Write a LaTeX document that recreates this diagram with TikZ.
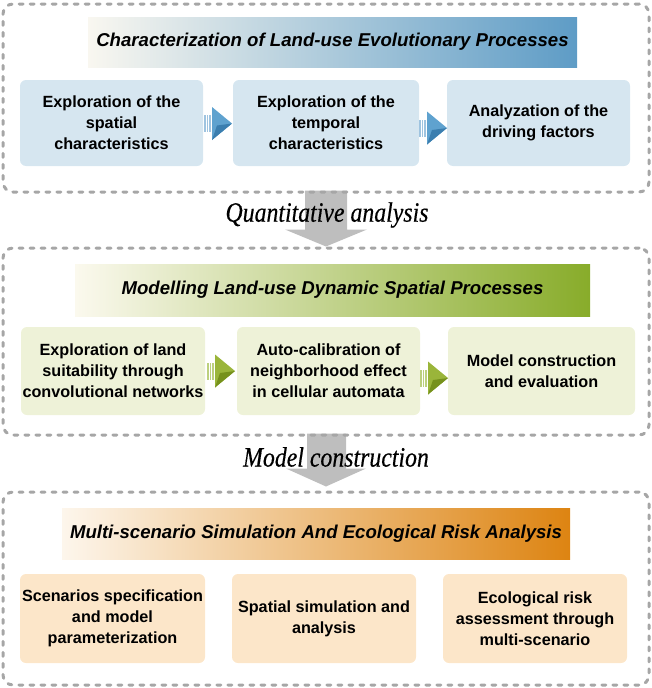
\documentclass[tikz,border=0pt]{standalone}
\usepackage{fontspec}
\setmainfont{Liberation Sans}
\newfontfamily\timesfont[FakeBold=0.4]{Liberation Serif}
\usetikzlibrary{calc,backgrounds}
\definecolor{dashgray}{HTML}{A6A6A6}
\definecolor{arrowgray}{HTML}{BEBEBE}
\definecolor{boxblue}{HTML}{D6E6F0}
\definecolor{boxgreen}{HTML}{EEF2D8}
\definecolor{boxorange}{HTML}{FCE6C9}
\definecolor{bannerblueL}{HTML}{F9F7F0}
\definecolor{bannerblueM}{HTML}{DAE8F0}
\definecolor{bannerblueR}{HTML}{5E9CC6}
\definecolor{bannergreenL}{HTML}{FBF9EE}
\definecolor{bannergreenM}{HTML}{EEF1D2}
\definecolor{bannergreenR}{HTML}{88AC2A}
\definecolor{bannerorangeL}{HTML}{FDF6EC}
\definecolor{bannerorangeM}{HTML}{F9DDB2}
\definecolor{bannerorangeR}{HTML}{DD8412}
\definecolor{barblue}{HTML}{9FC4E0}
\definecolor{midblue}{HTML}{5FA2CF}
\definecolor{darkblue}{HTML}{3B7EAF}
\definecolor{bargreen}{HTML}{BCD07E}
\definecolor{midgreen}{HTML}{9AB53A}
\definecolor{darkgreen}{HTML}{76911C}
\tikzset{
  outer/.style={draw=dashgray, line width=3pt, dash pattern=on 4pt off 7pt,
    line cap=round, rounded corners=10pt, minimum width=646pt, inner sep=0pt},
  banner/.style={inner sep=0pt, font=\fontsize{18.6}{21}\selectfont\bfseries\itshape},
  box/.style={rounded corners=6pt, inner sep=0pt, minimum height=88pt,
    align=center, font=\fontsize{16.2}{21}\selectfont\bfseries},
  bigarrow/.style={fill=arrowgray},
  midlabel/.style={inner sep=0pt, font=\timesfont\itshape\fontsize{28}{30}\selectfont},
  pics/chev/.style n args={3}{code={
    \fill[#1] (-14,-8.5) rectangle (-12.2,8.5);
    \fill[#1] (-11.4,-8.5) rectangle (-9.6,8.5);
    \fill[#1] (-8.8,-8.5) rectangle (-7,8.5);
    \fill[#2] (-6,-16.5) -- (14,0) -- (-6,16.5) -- cycle;
    \fill[#3] (-6,16.5) -- (14,0) -- (-1,2) -- cycle;
  }}
}
\begin{document}
\begin{tikzpicture}[x=1pt,y=-1pt]
\useasboundingbox (0,0) rectangle (652,688);

% outer dashed frames
\node[outer, minimum height=188pt] (o1) at (326,98) {};
\node[outer, minimum height=187pt] (o2) at (326,341.5) {};
\node[outer, minimum height=193pt] (o3) at (326,588.5) {};

% big gray arrows (behind)
\begin{scope}[on background layer]
\fill[bigarrow] ($(o1.south)+(-21,-3)$) -- ($(o1.south)+(21,-3)$)
  -- ($(o2.north)+(21,-17)$) -- ($(o2.north)+(41,-17)$) -- (o2.north)
  -- ($(o2.north)+(-41,-17)$) -- ($(o2.north)+(-21,-17)$) -- cycle;
\fill[bigarrow] ($(o2.south)+(-19,-3)$) -- ($(o2.south)+(20,-3)$)
  -- ($(o3.north)+(20,-22)$) -- ($(o3.north)+(40,-22)$) -- ($(o3.north)+(0,-4)$)
  -- ($(o3.north)+(-40,-22)$) -- ($(o3.north)+(-19,-22)$) -- cycle;
\end{scope}

\node[midlabel] (q) at (327,215) {\scalebox{0.85}[1]{Quantitative analysis}};
\node[midlabel] (m) at (336,457) {\scalebox{0.85}[1]{Model construction}};

% banners
\node[banner, minimum width=489pt, minimum height=50pt,
  left color=bannerblueL, middle color=bannerblueM, right color=bannerblueR]
  (t1) at (332.5,42) {Characterization of Land-use Evolutionary Processes};
\node[banner, minimum width=515pt, minimum height=52pt,
  left color=bannergreenL, middle color=bannergreenM, right color=bannergreenR]
  (t2) at (332.5,290) {Modelling Land-use Dynamic Spatial Processes};
\node[banner, minimum width=508pt, minimum height=51pt,
  left color=bannerorangeL, middle color=bannerorangeM, right color=bannerorangeR]
  (t3) at (316,533.5) {Multi-scenario Simulation And Ecological Risk Analysis};

% row 1
\node[box, fill=boxblue, minimum width=183pt, minimum height=86pt] (a1) at (111.5,123)
  {Exploration of the\\spatial\\characteristics};
\node[box, fill=boxblue, minimum width=186pt, minimum height=86pt] (a2) at (326,123)
  {Exploration of the\\temporal\\characteristics};
\node[box, fill=boxblue, minimum width=183pt, minimum height=86pt] (a3) at (538.5,123)
  {Analyzation of the\\driving factors};
\pic at ($(a1.east)!0.5!(a2.west)+(0,0.5)$) {chev={barblue}{midblue}{darkblue}};
\pic at ($(a2.east)!0.5!(a3.west)+(0,5)$) {chev={barblue}{midblue}{darkblue}};

% row 2
\node[box, fill=boxgreen, minimum width=184pt] (b1) at (113,371)
  {Exploration of land\\suitability through\\convolutional networks};
\node[box, fill=boxgreen, minimum width=183pt] (b2) at (328.5,371)
  {Auto-calibration of\\neighborhood effect\\in cellular automata};
\node[box, fill=boxgreen, minimum width=187pt] (b3) at (541.5,371)
  {Model construction\\and evaluation};
\pic at ($(b1.east)!0.5!(b2.west)$) {chev={bargreen}{midgreen}{darkgreen}};
\pic at ($(b2.east)!0.5!(b3.west)+(0,7)$) {chev={bargreen}{midgreen}{darkgreen}};

% row 3
\node[box, fill=boxorange, minimum width=185pt, minimum height=89pt] (c1) at (112.5,618.5)
  {Scenarios specification\\and model\\parameterization};
\node[box, fill=boxorange, minimum width=184pt, minimum height=89pt] (c2) at (324,618.5)
  {Spatial simulation and\\analysis};
\node[box, fill=boxorange, minimum width=184pt, minimum height=89pt] (c3) at (535,618.5)
  {Ecological risk\\assessment through\\multi-scenario};
\end{tikzpicture}
\end{document}
